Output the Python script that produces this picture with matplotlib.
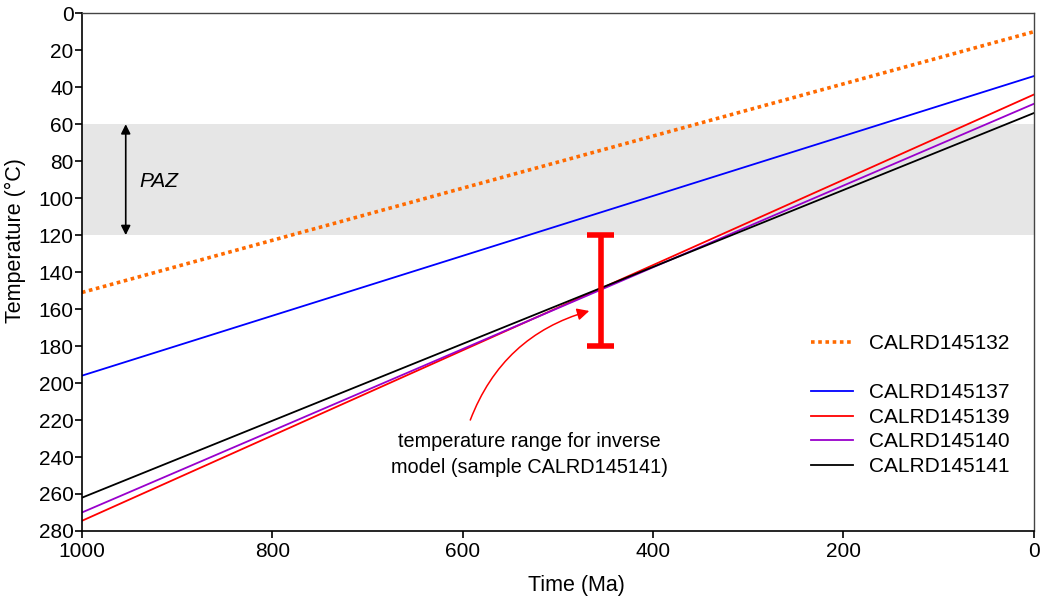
import matplotlib.pyplot as plt
from matplotlib.lines import Line2D

plt.rcParams['font.family'] = ['Liberation Sans', 'DejaVu Sans']

# time (Ma) and temperature (°C) endpoints of each path
time = [1000, 0]
t132 = [151, 10]
t137 = [196, 34]
t139 = [274.5, 44]
t140 = [270, 49]
t141 = [262, 54]

paz = [60, 120]
range_time = 455
range_temp = [120, 180]

fig = plt.figure(figsize=(10.4, 5.97), dpi=100)
ax = fig.add_axes([0.0788, 0.1106, 0.9152, 0.8672])

ax.axhspan(paz[0], paz[1], color='#e6e6e6', zorder=0, lw=0)

ax.plot(time, t132, color='#ff6a00', lw=2.6, ls=(0, (1, 1)), label='CALRD145132')
ax.plot(time, t137, color='#0000ff', lw=1.3, label='CALRD145137')
ax.plot(time, t139, color='#ff0000', lw=1.3, label='CALRD145139')
ax.plot(time, t140, color='#9900cc', lw=1.3, label='CALRD145140')
ax.plot(time, t141, color='black', lw=1.3, label='CALRD145141')

# PAZ double arrow
ax.annotate('', xy=(954, paz[0]), xytext=(954, paz[1]),
            arrowprops=dict(arrowstyle='<|-|>', color='black', lw=1.2,
                            mutation_scale=14, shrinkA=0, shrinkB=0))
ax.text(940, 91, 'PAZ', fontsize=15, style='italic', va='center', ha='left')

# temperature range bar
ax.plot([range_time, range_time], range_temp, color='#ff0000', lw=4, solid_capstyle='butt')
for v in range_temp:
    ax.plot([range_time - 14, range_time + 14], [v, v], color='#ff0000', lw=4,
            solid_capstyle='butt')

ax.annotate('', xy=(467, 161), xytext=(592, 220),
            arrowprops=dict(arrowstyle='-|>', color='#ff0000', lw=1.1,
                            mutation_scale=18, connectionstyle='arc3,rad=-0.25',
                            shrinkA=0, shrinkB=0))
ax.text(530, 238.5, 'temperature range for inverse\nmodel (sample CALRD145141)',
        fontsize=14.3, ha='center', va='center', linespacing=1.45)

handles, labels = ax.get_legend_handles_labels()
blank = Line2D([], [], color='none')
handles = [handles[0], blank] + handles[1:]
labels = [labels[0], ''] + labels[1:]
ax.legend(handles, labels, loc='lower right', bbox_to_anchor=(0.983, 0.09),
          frameon=False, fontsize=15, handlelength=2.0, labelspacing=0.27,
          handletextpad=0.75, borderaxespad=0)

ax.set_xlim(1000, 0)
ax.set_ylim(280, 0)
ax.set_xticks([1000, 800, 600, 400, 200, 0])
ax.set_yticks(range(0, 281, 20))
ax.tick_params(axis='both', labelsize=15, direction='out', length=5, width=1.2, pad=1)
ax.tick_params(axis='x', pad=3)
for s in ['left', 'bottom']:
    ax.spines[s].set_linewidth(1.2)
for s in ['top', 'right']:
    ax.spines[s].set_linewidth(1.0)
    ax.spines[s].set_color('#444444')

ax.set_xlabel('Time (Ma)', fontsize=15.5, labelpad=7)
ax.set_ylabel('Temperature (°C)', fontsize=15.5, labelpad=3)
ax.xaxis.set_label_coords(0.519, -0.085)
ax.yaxis.set_label_coords(-0.0585, 0.56)

fig.savefig('out.png', dpi=100)
